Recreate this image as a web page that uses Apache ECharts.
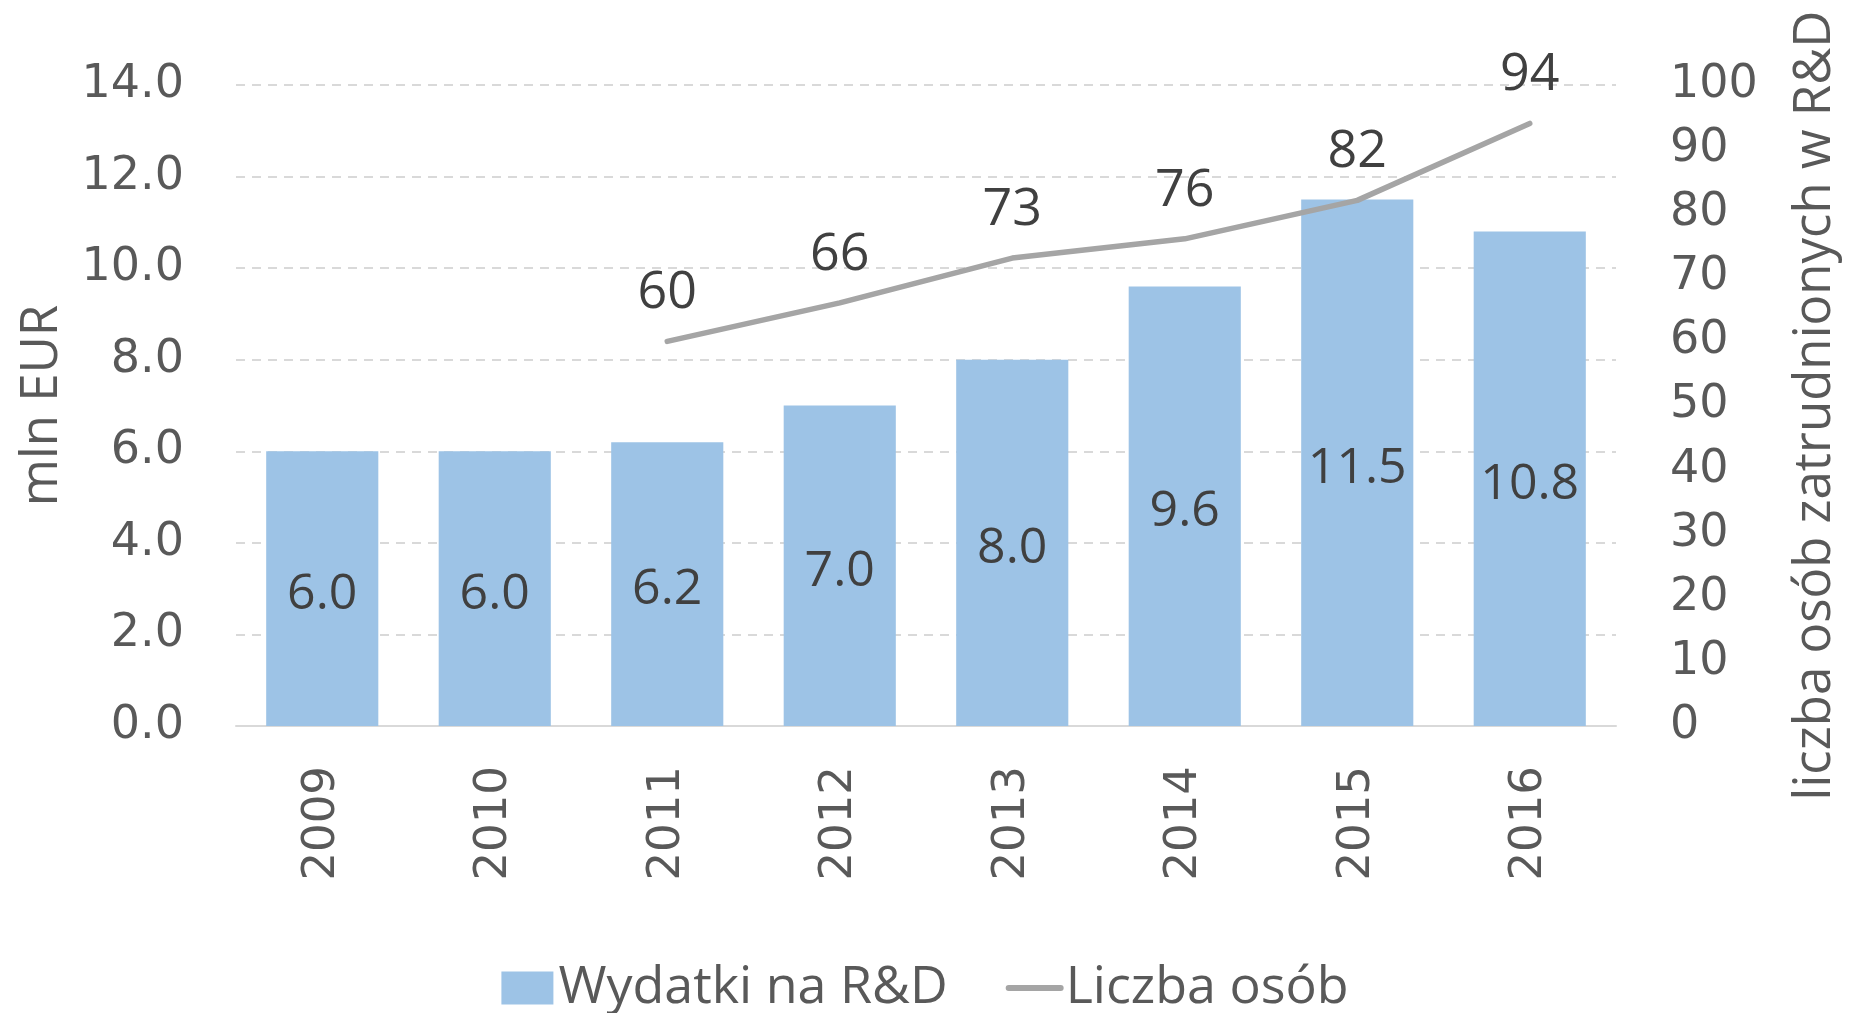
<!DOCTYPE html>
<html>
<head>
<meta charset="utf-8">
<script src="https://cdn.jsdelivr.net/npm/echarts@6/dist/echarts.min.js"></script>
<style>
  html, body { margin: 0; padding: 0; background: #ffffff; }
  #chart { width: 1850px; height: 1013px; }
</style>
</head>
<body>
<div id="chart"></div>
<script>
// lata
var years = ["2009", "2010", "2011", "2012", "2013", "2014", "2015", "2016"];
// wydatki na R&D (mln EUR)
var spending = [6.0, 6.0, 6.2, 7.0, 8.0, 9.6, 11.5, 10.8];
// liczba osob zatrudnionych w R&D
var staff = [null, null, 60, 66, 73, 76, 82, 94];

var tickFont = "DejaVu Sans";
var textFont = "Open Sans";

var myChart = echarts.init(document.getElementById("chart"));
var option = {
  animation: false,
  backgroundColor: "#ffffff",
  grid: {
    left: 236,
    right: 234,
    top: 85,
    bottom: 287
  },
  legend: {
    bottom: -6,
    left: "center",
    itemWidth: 52,
    itemHeight: 33,
    itemGap: 58,
    textStyle: {
      fontFamily: textFont,
      fontSize: 52,
      color: "#595959"
    },
    data: [
      { name: "Wydatki na R&D", icon: "rect" },
      {
        name: "Liczba osób",
        itemStyle: { color: "rgba(0,0,0,0)", borderWidth: 0 },
        lineStyle: { color: "#A5A5A5", width: 6, cap: "round" }
      }
    ]
  },
  xAxis: [
    {
      type: "category",
      data: years,
      axisLine: { lineStyle: { color: "#D9D9D9", width: 2 } },
      axisTick: { show: false },
      axisLabel: {
        rotate: 90,
        margin: 40,
        fontFamily: tickFont,
        fontSize: 45,
        color: "#595959"
      }
    }
  ],
  yAxis: [
    {
      type: "value",
      min: 0,
      max: 14,
      interval: 2,
      name: "mln EUR",
      nameLocation: "middle",
      nameRotate: 90,
      nameGap: 168,
      nameTextStyle: {
        fontFamily: textFont,
        fontSize: 51,
        color: "#595959"
      },
      axisLine: { show: false },
      axisTick: { show: false },
      axisLabel: {
        margin: 52,
        fontFamily: tickFont,
        fontSize: 46,
        color: "#595959",
        formatter: function (v) { return v.toFixed(1); }
      },
      splitLine: {
        lineStyle: { color: "#D9D9D9", width: 2, type: [9, 7] }
      }
    },
    {
      type: "value",
      min: 0,
      max: 100,
      interval: 10,
      position: "right",
      name: "liczba osób zatrudnionych w R&D",
      nameLocation: "middle",
      nameRotate: 90,
      nameGap: 174,
      nameTextStyle: {
        fontFamily: textFont,
        fontSize: 51,
        color: "#595959"
      },
      axisLine: { show: false },
      axisTick: { show: false },
      splitLine: { show: false },
      axisLabel: {
        margin: 54,
        fontFamily: tickFont,
        fontSize: 46,
        color: "#595959"
      }
    }
  ],
  series: [
    {
      name: "Wydatki na R&D",
      type: "bar",
      yAxisIndex: 0,
      barCategoryGap: "35%",
      itemStyle: { color: "#9DC3E6" },
      label: {
        show: true,
        position: "inside",
        offset: [0, 6],
        fontFamily: textFont,
        fontSize: 50,
        color: "#404040",
        formatter: function (p) { return p.value.toFixed(1); }
      },
      data: spending
    },
    {
      name: "Liczba osób",
      type: "line",
      yAxisIndex: 1,
      symbol: "circle",
      symbolSize: 0,
      lineStyle: { color: "#A5A5A5", width: 5.5, cap: "round" },
      itemStyle: { color: "#A5A5A5" },
      label: {
        show: true,
        position: "top",
        distance: 22,
        fontFamily: textFont,
        fontSize: 52,
        color: "#404040"
      },
      data: staff
    }
  ]
};
myChart.setOption(option);
</script>
</body>
</html>
